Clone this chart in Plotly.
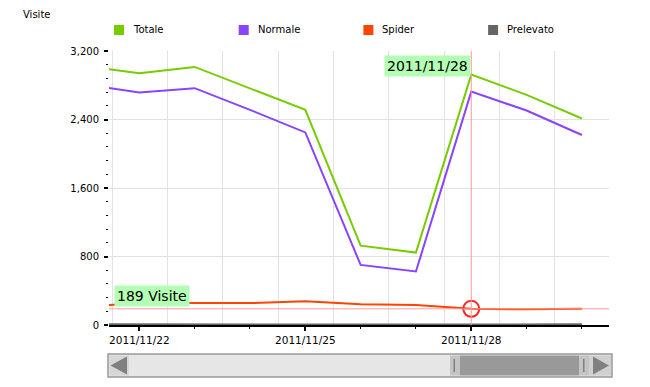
import plotly.graph_objects as go

# ---------------- data ----------------
dates = ["2011-11-21", "2011-11-22", "2011-11-23", "2011-11-24", "2011-11-25",
         "2011-11-26", "2011-11-27", "2011-11-28", "2011-11-29", "2011-11-30"]
totale = [3025, 2940, 3014, 2766, 2513, 927, 846, 2924, 2688, 2412]
normale = [2810, 2715, 2766, 2513, 2249, 702, 625, 2726, 2505, 2219]
spider = [222, 250, 256, 256, 276, 243, 235, 189, 183, 190]
prelevato = [8, 9, 10, 9, 8, 6, 5, 6, 7, 8]

series_names = ["Totale", "Normale", "Spider", "Prelevato"]
series_colors = ["#77cc00", "#8844ff", "#ff4400", "#666666"]
y_tick_vals = [0, 800, 1600, 2400, 3200]
x_view = ["2011-11-21 10:50", "2011-11-30 11:45"]
hover_index = 7
unit_label = "Visite"

FONT = "DejaVu Sans"
OFF = 8  # page body margin
W, H = 650 - OFF, 387 - OFF
PLOT_X0, PLOT_X1, PLOT_Y0, PLOT_Y1 = 109, 609, 51, 325  # screen coords
L, T = PLOT_X0 - OFF, PLOT_Y0 - OFF
PW, PH = PLOT_X1 - PLOT_X0, PLOT_Y1 - PLOT_Y0
R, B = W - L - PW, H - T - PH


def px(x):
    return (x - PLOT_X0) / PW


def py(y):
    return (PLOT_Y1 - y) / PH


fig = go.Figure()

# Prelevato on the overlay axis (carries the daily minor ticks)
fig.add_trace(go.Scatter(x=dates, y=prelevato, mode="lines", name=series_names[3],
                         line=dict(color=series_colors[3], width=2), xaxis="x2",
                         showlegend=False, hoverinfo="skip"))
fig.add_trace(go.Scatter(x=dates, y=spider, mode="lines", name=series_names[2],
                         line=dict(color=series_colors[2], width=2),
                         showlegend=False, hoverinfo="skip"))
fig.add_trace(go.Scatter(x=dates, y=normale, mode="lines", name=series_names[1],
                         line=dict(color=series_colors[1], width=2),
                         showlegend=False, hoverinfo="skip"))
fig.add_trace(go.Scatter(x=dates, y=totale, mode="lines", name=series_names[0],
                         line=dict(color=series_colors[0], width=2),
                         showlegend=False, hoverinfo="skip"))
# hover circle
fig.add_trace(go.Scatter(x=[dates[hover_index]], y=[spider[hover_index]], mode="markers",
                         marker=dict(symbol="circle-open", size=16,
                                     line=dict(color="#ff2222", width=2), color="#ff2222"),
                         showlegend=False, hoverinfo="skip"))

shapes = []
annotations = []

# crosshair
shapes.append(dict(type="line", xref="x", yref="paper", x0=dates[hover_index], x1=dates[hover_index],
                   y0=0, y1=1, line=dict(color="#ff9a9a", width=1), layer="above"))
shapes.append(dict(type="line", xref="paper", yref="y", x0=0, x1=1,
                   y0=spider[hover_index], y1=spider[hover_index],
                   line=dict(color="#ff9a9a", width=1), layer="above"))

d = dates[hover_index].replace("-", "/")
annotations.append(dict(x=dates[hover_index], xref="x", y=py(55), yref="paper",
                        xanchor="right", yanchor="top", text=d, showarrow=False,
                        bgcolor="#b3ffb3", borderpad=2, font=dict(family=FONT, size=14, color="#000")))
annotations.append(dict(x=px(114), xref="paper", y=spider[hover_index], yref="y",
                        xanchor="left", yanchor="bottom", yshift=2,
                        text=f"{spider[hover_index]} {unit_label}", showarrow=False,
                        bgcolor="#b3ffb3", borderpad=2, font=dict(family=FONT, size=14, color="#000")))

# title (kept inside the figure's top edge)
annotations.append(dict(x=px(22), xref="paper", y=py(OFF), yref="paper", xanchor="left",
                        yanchor="top", text=unit_label, showarrow=False, borderpad=0,
                        font=dict(family=FONT, size=10, color="#000")))

# legend
for i, (n, c) in enumerate(zip(series_names, series_colors)):
    x0 = 114 + i * 124.7
    shapes.append(dict(type="rect", xref="paper", yref="paper", x0=px(x0), x1=px(x0 + 10),
                       y0=py(35), y1=py(25), fillcolor=c, line=dict(width=0)))
    annotations.append(dict(x=px(x0 + 17), xref="paper", y=py(30), yref="paper",
                            xanchor="left", yanchor="middle", text=n, showarrow=False,
                            font=dict(family=FONT, size=10, color="#000")))


# scrollbar (UI decoration)
def rect(x0, x1, y0, y1, fill, line=None, lw=0):
    shapes.append(dict(type="rect", xref="paper", yref="paper", x0=px(x0), x1=px(x1),
                       y0=py(y1), y1=py(y0), fillcolor=fill,
                       line=dict(color=line or fill, width=lw)))


def tri(pts, fill):
    path = "M " + " L ".join(f"{px(a)},{py(b)}" for a, b in pts) + " Z"
    shapes.append(dict(type="path", xref="paper", yref="paper", path=path,
                       fillcolor=fill, line=dict(width=0)))


rect(108, 612, 354, 377, "#e6e6e6", "#999999", 1.5)
rect(109.5, 129, 355.5, 375.5, "#d6d6d6")
tri([(110.5, 365.5), (127, 356.5), (127, 374.5)], "#808080")
rect(450, 460, 355.5, 375.5, "#c4c4c4")
rect(453.5, 455, 359, 372, "#808080")
rect(460, 579, 355.5, 375.5, "#999999")
rect(579, 589, 355.5, 375.5, "#c4c4c4")
rect(583, 584.5, 359, 372, "#808080")
rect(589, 611, 355.5, 375.5, "#d0d0d0")
tri([(593, 356.5), (609, 365.5), (593, 374.5)], "#808080")

day_ms = 86400000
fig.update_layout(
    width=W, height=H,
    margin=dict(l=L, r=R, t=T, b=B),
    paper_bgcolor="white", plot_bgcolor="white",
    showlegend=False,
    font=dict(family=FONT, color="#000"),
    xaxis=dict(type="date", range=x_view, tickmode="linear", tick0="2011-11-22",
               dtick=3 * day_ms, tickformat="%Y/%m/%d", ticks="outside", ticklen=4,
               tickwidth=2, tickcolor="#000", showline=True, linecolor="#000", linewidth=2,
               showgrid=False, zeroline=False,
               tickfont=dict(family=FONT, size=10.5, color="#000"),
               minor=dict(tickmode="linear", tick0="2011-11-21 12:15", dtick=day_ms,
                          showgrid=True, gridcolor="#e2e2e2", gridwidth=1, ticks="")),
    xaxis2=dict(type="date", overlaying="x", matches="x", anchor="y", side="bottom",
                tickmode="linear", tick0="2011-11-22", dtick=day_ms, ticks="outside",
                ticklen=3, tickwidth=1, tickcolor="#000", showticklabels=False,
                showgrid=False, showline=False, zeroline=False),
    yaxis=dict(range=[0, 3200], tickmode="array", tickvals=y_tick_vals, tickformat=",",
               ticks="outside", ticklen=4, tickwidth=2, tickcolor="#000",
               showgrid=True, gridcolor="#e2e2e2", gridwidth=1, zeroline=False,
               showline=False, ticklabelstandoff=3,
               tickfont=dict(family=FONT, size=10, color="#000"),
               minor=dict(tickmode="linear", tick0=0, dtick=160, ticks="outside",
                          ticklen=2, tickwidth=1, tickcolor="#000", showgrid=False)),
    shapes=shapes,
    annotations=annotations,
)

fig.write_html("out.html")
